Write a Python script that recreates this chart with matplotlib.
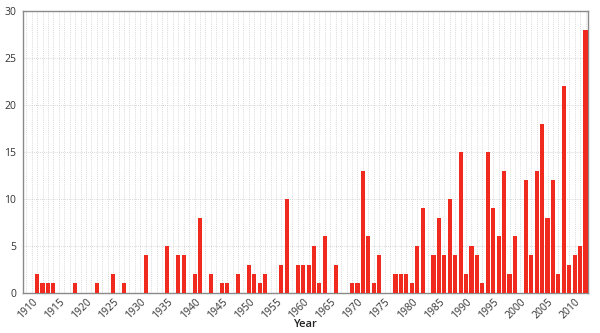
import matplotlib.pyplot as plt
from matplotlib.ticker import MultipleLocator

# yearly counts (years not listed are zero)
years = [1911, 1912, 1913, 1914, 1918, 1922, 1925, 1927, 1931, 1935,
         1937, 1938, 1940, 1941, 1943, 1945, 1946, 1948, 1950, 1951,
         1952, 1953, 1956, 1957, 1959, 1960, 1961, 1962, 1963, 1964,
         1966, 1969, 1970, 1971, 1972, 1973, 1974, 1977, 1978, 1979,
         1980, 1981, 1982, 1984, 1985, 1986, 1987, 1988, 1989, 1990,
         1991, 1992, 1993, 1994, 1995, 1996, 1997, 1998, 1999, 2001,
         2002, 2003, 2004, 2005, 2006, 2007, 2008, 2009, 2010, 2011,
         2012]
counts = [2, 1, 1, 1, 1, 1, 2, 1, 4, 5,
          4, 4, 2, 8, 2, 1, 1, 2, 3, 2,
          1, 2, 3, 10, 3, 3, 3, 5, 1, 6,
          3, 1, 1, 13, 6, 1, 4, 2, 2, 2,
          1, 5, 9, 4, 8, 4, 10, 4, 15, 2,
          5, 4, 1, 15, 9, 6, 13, 2, 6, 12,
          4, 13, 18, 8, 12, 2, 22, 3, 4, 5,
          28]
x_ticks = list(range(1910, 2011, 5))
y_ticks = [0, 5, 10, 15, 20, 25, 30]

plt.rcParams['font.family'] = ['Open Sans', 'DejaVu Sans']

fig = plt.figure(figsize=(6, 3.33), dpi=100)
ax = fig.add_axes([0.0383, 0.121, 0.9412, 0.846])

ax.bar(years, counts, width=0.75, color='#f02a1f', zorder=3)

ax.set_xlim(1908.4, 2012.4)
ax.set_ylim(0, 30)
ax.set_xticks(x_ticks)
ax.set_yticks(y_ticks)
ax.xaxis.set_minor_locator(MultipleLocator(1))

ax.grid(True, which='both', axis='x', color='#cccccc', linestyle=(0, (1, 1.5)), linewidth=0.6, zorder=0)
ax.grid(True, which='major', axis='y', color='#cccccc', linestyle=(0, (1, 1.5)), linewidth=0.6, zorder=0)

ax.tick_params(axis='both', which='both', length=0, labelsize=7.5, colors='#333333')
ax.tick_params(axis='x', pad=3)
ax.tick_params(axis='y', pad=5)
plt.setp(ax.get_xticklabels(), rotation=45, ha='right', rotation_mode='anchor')

for s in ax.spines.values():
    s.set_color('#8a8a8a')
    s.set_linewidth(1)

fig.text(0.508, 0.025, 'Year', fontsize=8, color='#222222', fontweight='semibold',
         ha='center', va='center')

fig.savefig('out.png', dpi=100)
